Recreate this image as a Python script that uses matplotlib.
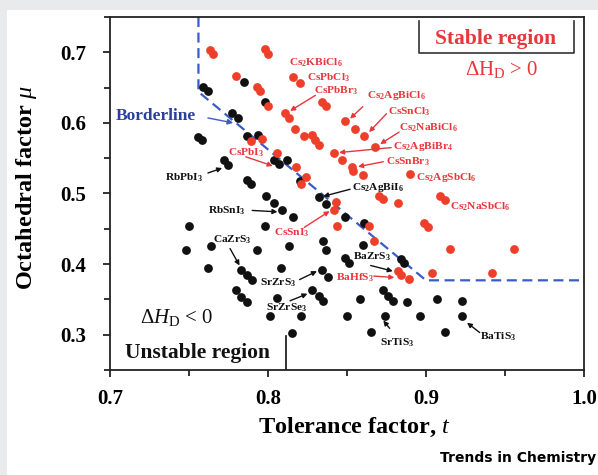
import matplotlib.pyplot as plt
from matplotlib.patches import Rectangle
from matplotlib.ticker import MultipleLocator

plt.rcParams['font.family'] = 'Liberation Serif'
plt.rcParams['mathtext.fontset'] = 'custom'
plt.rcParams['mathtext.rm'] = 'Liberation Serif'
plt.rcParams['mathtext.it'] = 'Liberation Serif:italic'
plt.rcParams['mathtext.bf'] = 'Liberation Serif:bold'

# Stable perovskites (red) : tolerance factor t, octahedral factor mu
stable_t = [0.763, 0.765, 0.798, 0.800, 0.780, 0.793, 0.795, 0.800, 0.816, 0.820,
            0.834, 0.837, 0.811, 0.813, 0.817, 0.823, 0.828, 0.830, 0.832, 0.842,
            0.849, 0.855, 0.861, 0.868, 0.847, 0.853, 0.854, 0.860, 0.890, 0.909,
            0.912, 0.806, 0.789, 0.796, 0.818, 0.824, 0.821, 0.870, 0.873, 0.882,
            0.843, 0.842, 0.844, 0.864, 0.867, 0.899, 0.901, 0.915, 0.956, 0.882,
            0.884, 0.889, 0.904, 0.942]
stable_mu = [0.703, 0.698, 0.704, 0.698, 0.666, 0.651, 0.645, 0.624, 0.665, 0.656,
             0.629, 0.624, 0.614, 0.607, 0.592, 0.581, 0.583, 0.576, 0.568, 0.558,
             0.602, 0.592, 0.581, 0.566, 0.548, 0.537, 0.532, 0.526, 0.528, 0.496,
             0.491, 0.558, 0.575, 0.577, 0.537, 0.524, 0.513, 0.496, 0.492, 0.487,
             0.488, 0.477, 0.454, 0.454, 0.433, 0.458, 0.453, 0.421, 0.421, 0.390,
             0.385, 0.379, 0.388, 0.388]

# Unstable compounds (black)
unstable_t = [0.759, 0.762, 0.785, 0.798, 0.777, 0.781, 0.756, 0.758, 0.787, 0.794,
              0.772, 0.775, 0.804, 0.807, 0.812, 0.820, 0.787, 0.789, 0.799, 0.804,
              0.809, 0.816, 0.832, 0.837, 0.750, 0.798, 0.748, 0.764, 0.793, 0.813,
              0.835, 0.837, 0.849, 0.861, 0.860, 0.762, 0.808, 0.783, 0.787, 0.790,
              0.834, 0.838, 0.849, 0.851, 0.884, 0.886, 0.780, 0.783, 0.787, 0.828,
              0.832, 0.835, 0.806, 0.873, 0.876, 0.879, 0.858, 0.888, 0.907, 0.923,
              0.801, 0.821, 0.850, 0.874, 0.896, 0.923, 0.815, 0.865, 0.912]
unstable_mu = [0.651, 0.645, 0.658, 0.630, 0.614, 0.607, 0.580, 0.576, 0.581, 0.583,
               0.548, 0.541, 0.548, 0.542, 0.548, 0.518, 0.519, 0.514, 0.496, 0.486,
               0.477, 0.466, 0.495, 0.485, 0.454, 0.454, 0.420, 0.425, 0.420, 0.426,
               0.432, 0.420, 0.466, 0.458, 0.427, 0.395, 0.395, 0.391, 0.384, 0.378,
               0.391, 0.382, 0.408, 0.402, 0.407, 0.402, 0.363, 0.353, 0.346, 0.363,
               0.355, 0.348, 0.352, 0.363, 0.355, 0.348, 0.351, 0.346, 0.351, 0.348,
               0.326, 0.326, 0.326, 0.326, 0.326, 0.326, 0.303, 0.304, 0.304]

# Borderline between the two regions
border_t = [0.756, 0.756, 0.900, 1.000]
border_mu = [0.750, 0.644, 0.377, 0.377]

RED = '#ee3f2a'
RED_TXT = '#e8363b'
BLACK = '#111111'
BLUE = '#3b5bc6'

# name, colour, text position, arrow tail, arrow tip
labels = [
    (r'Cs$_\mathbf{2}$KBiCl$_\mathbf{6}$', RED_TXT, (0.813, 0.685), None, None),
    (r'CsPbCl$_\mathbf{3}$', RED_TXT, (0.825, 0.664), None, None),
    (r'CsPbBr$_\mathbf{3}$', RED_TXT, (0.829, 0.646), (0.830, 0.639), (0.814, 0.617)),
    (r'Cs$_\mathbf{2}$AgBiCl$_\mathbf{6}$', RED_TXT, (0.863, 0.639), (0.860, 0.623), (0.852, 0.606)),
    (r'CsSnCl$_\mathbf{3}$', RED_TXT, (0.876, 0.616), (0.875, 0.613), (0.864, 0.587)),
    (r'Cs$_\mathbf{2}$NaBiCl$_\mathbf{6}$', RED_TXT, (0.883, 0.593), (0.883, 0.587), (0.871, 0.570)),
    (r'Cs$_\mathbf{2}$AgBiBr$_\mathbf{4}$', RED_TXT, (0.879, 0.566), (0.878, 0.565), (0.845, 0.558)),
    (r'CsSnBr$_\mathbf{3}$', RED_TXT, (0.875, 0.545), (0.873, 0.545), (0.857, 0.538)),
    (r'Cs$_\mathbf{2}$AgSbCl$_\mathbf{6}$', RED_TXT, (0.894, 0.523), None, None),
    (r'Cs$_\mathbf{2}$AgBiI$_\mathbf{6}$', BLACK, (0.853, 0.508), (0.852, 0.506), (0.835, 0.496)),
    (r'Cs$_\mathbf{2}$NaSbCl$_\mathbf{6}$', RED_TXT, (0.915, 0.481), None, None),
    (r'CsPbI$_\mathbf{3}$', RED_TXT, (0.775, 0.558), (0.786, 0.552), (0.803, 0.539)),
    (r'RbPbI$_\mathbf{3}$', BLACK, (0.735, 0.523), (0.762, 0.529), (0.771, 0.536)),
    (r'RbSnI$_\mathbf{3}$', BLACK, (0.762, 0.476), (0.790, 0.476), (0.806, 0.474)),
    (r'CsSnI$_\mathbf{3}$', RED_TXT, (0.804, 0.444), (0.823, 0.452), (0.839, 0.475)),
    (r'CaZrS$_\mathbf{3}$', BLACK, (0.765, 0.434), (0.776, 0.422), (0.782, 0.398)),
    (r'SrZrS$_\mathbf{3}$', BLACK, (0.795, 0.374), (0.820, 0.378), (0.831, 0.390)),
    (r'SrZrSe$_\mathbf{3}$', BLACK, (0.799, 0.338), (0.814, 0.348), (0.825, 0.358)),
    (r'BaZrS$_\mathbf{3}$', BLACK, (0.854, 0.411), (0.865, 0.398), (0.879, 0.390)),
    (r'BaHfS$_\mathbf{3}$', RED_TXT, (0.843, 0.381), (0.867, 0.383), (0.880, 0.381)),
    (r'SrTiS$_\mathbf{3}$', BLACK, (0.871, 0.289), (0.877, 0.309), (0.873, 0.320)),
    (r'BaTiS$_\mathbf{3}$', BLACK, (0.934, 0.297), (0.934, 0.303), (0.926, 0.317)),
]

fig = plt.figure(figsize=(5.98, 4.75), dpi=100, facecolor='#e9eaec')
fig.patches.append(Rectangle((7 / 598, 0), 1, 1 - 10 / 475, transform=fig.transFigure,
                             facecolor='white', edgecolor='none', zorder=-1))
ax = fig.add_axes([0.1839, 0.2211, 0.7926, 0.7431])

ax.plot(border_t, border_mu, linestyle=(0, (4.5, 2.5)), color=BLUE, linewidth=1.6, zorder=1)
ax.scatter(unstable_t, unstable_mu, s=40, color=BLACK, linewidths=0, zorder=3)
ax.scatter(stable_t, stable_mu, s=40, color=RED, linewidths=0, zorder=3)

for name, col, pos, tail, tip in labels:
    ax.text(pos[0], pos[1], name, color=col, fontsize=8.2, fontweight='bold',
            ha='left', va='center', zorder=4)
    if tail is not None:
        ax.annotate('', xy=tip, xytext=tail,
                    arrowprops=dict(arrowstyle='-|>', color=col, lw=1.0,
                                    mutation_scale=7, shrinkA=0, shrinkB=0), zorder=4)

# Borderline label
ax.text(0.7035, 0.610, 'Borderline', color='#2a3f9e', fontsize=12.5, fontweight='bold',
        ha='left', va='center')
ax.annotate('', xy=(0.778, 0.600), xytext=(0.762, 0.607),
            arrowprops=dict(arrowstyle='-|>', color=BLUE, lw=1.0, mutation_scale=8,
                            shrinkA=0, shrinkB=0))

# Stable region box
ax.plot([0.8955, 0.8955, 0.9937, 0.9937], [0.7438, 0.6997, 0.6997, 0.7438],
        color='#333333', linewidth=1.2)
ax.text(0.9443, 0.7182, 'Stable region', color=RED_TXT, fontsize=15.5, fontweight='bold',
        ha='center', va='center')
ax.text(0.9481, 0.6755, r'$\Delta$H$_{\rm D}$ > 0', color=RED_TXT, fontsize=15,
        ha='center', va='center')

# Unstable region box
ax.plot([0.8112, 0.8112], [0.25, 0.2986], color=BLACK, linewidth=1.2)
ax.text(0.7098, 0.2744, 'Unstable region', color=BLACK, fontsize=15.5, fontweight='bold',
        ha='left', va='center')
ax.text(0.7193, 0.3242, r'$\Delta H_{\rm D}$ < 0', color=BLACK, fontsize=15,
        ha='left', va='center')

ax.set_xlim(0.7, 1.0)
ax.set_ylim(0.25, 0.75)
ax.xaxis.set_major_locator(MultipleLocator(0.1))
ax.xaxis.set_minor_locator(MultipleLocator(0.05))
ax.yaxis.set_major_locator(MultipleLocator(0.1))
ax.yaxis.set_minor_locator(MultipleLocator(0.05))
ax.tick_params(which='both', direction='out', width=1.2, color=BLACK)
ax.tick_params(which='major', length=5)
ax.tick_params(which='minor', length=4)
ax.tick_params(axis='x', which='major', pad=9, labelsize=15)
ax.tick_params(axis='y', which='major', pad=12, labelsize=15)
for lab in ax.get_xticklabels() + ax.get_yticklabels():
    lab.set_fontweight('bold')
for sp in ax.spines.values():
    sp.set_linewidth(1.3)
    sp.set_color('#222222')

ax.set_xlabel(r'Tolerance factor, $t$', fontsize=17.5, fontweight='bold')
ax.set_ylabel(r'Octahedral factor $\mu$', fontsize=17.5, fontweight='bold')
ax.xaxis.set_label_coords(0.515, -0.13)
ax.yaxis.set_label_coords(-0.15, 0.516)

fig.text(0.997, 0.036, 'Trends in Chemistry', family=['Liberation Sans Narrow', 'DejaVu Sans'],
         fontsize=10, fontweight='bold', ha='right', va='center')

fig.savefig('out.png', dpi=100, facecolor=fig.get_facecolor())
